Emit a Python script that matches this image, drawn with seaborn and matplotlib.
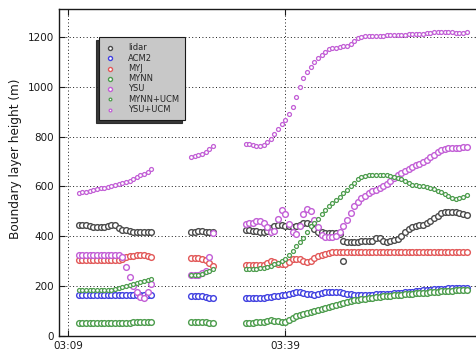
import numpy as np
import pandas as pd
import matplotlib
matplotlib.use("Agg")
import matplotlib.pyplot as plt
import seaborn as sns

sns.set_theme(style="white")
plt.rcParams["font.family"] = ["DejaVu Sans"]

# Sampling times in minutes after 03:09 (30 s cadence), three observing windows
seg1_time = np.arange(1.5, 11.51, 0.5)
seg2_time = np.arange(17.0, 20.01, 0.5)
seg3_time = np.arange(24.5, 55.01, 0.5)

# Boundary layer height (m) per scheme and window
lidar_1 = [445, 446, 444, 440, 438, 437, 437, 438, 440, 446, 446, 432, 426, 424, 420, 418, 417, 416, 415, 415, 415]
lidar_2 = [417, 418, 419, 419, 418, 417, 416]
lidar_3 = [425, 423, 421, 420, 418, 416, 420, 432, 442, 445, 445, 443, 440, 438, 440, 446, 452, 455, 448, 430,
           418, 415, 414, 413, 413, 412, 408, 380, 378, 378, 377, 378, 380, 379, 380, 382, 392, 393, 380, 378,
           380, 383, 388, 400, 415, 428, 436, 442, 444, 446, 452, 462, 472, 482, 492, 497, 499, 498, 496, 493,
           490, 486]
lidar_extra_time = [38.0]
lidar_extra = [302]

acm2_1 = [163, 163, 163, 163, 163, 163, 163, 163, 163, 163, 163, 163, 164, 164, 165, 166, 166, 165, 164, 164, 164]
acm2_2 = [162, 162, 161, 160, 157, 154, 151]
acm2_3 = [152, 152, 152, 152, 153, 154, 156, 158, 160, 162, 163, 165, 170, 174, 176, 176, 173, 170, 167, 166,
          168, 172, 176, 178, 178, 177, 175, 173, 170, 168, 166, 165, 165, 165, 165, 166, 167, 168, 168, 169,
          170, 171, 172, 174, 175, 177, 178, 180, 181, 183, 185, 186, 187, 188, 189, 190, 191, 192, 192, 193,
          193, 194]

myj_1 = [305, 305, 305, 305, 305, 305, 305, 305, 305, 305, 305, 305, 310, 318, 320, 322, 323, 324, 323, 321, 318]
myj_2 = [312, 312, 312, 310, 305, 292, 280]
myj_3 = [284, 284, 285, 285, 285, 286, 294, 299, 296, 290, 288, 290, 298, 307, 310, 307, 301, 297, 301, 311,
         319, 325, 330, 334, 337, 338, 338, 338, 338, 338, 338, 338, 338, 338, 338, 338, 338, 338, 338, 338,
         338, 338, 338, 338, 338, 338, 338, 338, 338, 338, 338, 338, 338, 338, 338, 338, 338, 338, 338, 338,
         338, 338]

mynn_1 = [50, 50, 50, 50, 50, 50, 50, 50, 50, 50, 50, 50, 50, 50, 50, 54, 56, 57, 57, 56, 56]
mynn_2 = [57, 57, 57, 56, 55, 53, 51]
mynn_3 = [52, 52, 53, 54, 55, 57, 60, 62, 60, 58, 56, 56, 64, 72, 78, 84, 88, 92, 96, 100,
          105, 109, 113, 117, 121, 125, 129, 133, 137, 140, 143, 145, 147, 149, 151, 154, 156, 158, 159, 160,
          162, 163, 164, 166, 167, 168, 170, 171, 172, 173, 174, 176, 177, 178, 179, 180, 181, 182, 183, 184,
          185, 186]

ysu_1 = [325, 325, 325, 325, 325, 325, 325, 325, 325, 325, 325, 325, 318, 275, 235, 200, 175, 158, 152, 175, 210]
ysu_2 = [243, 244, 246, 252, 262, 318, 412]
ysu_3 = [450, 452, 455, 460, 463, 455, 435, 415, 420, 470, 505, 490, 450, 415, 410, 440, 490, 510, 500, 465,
         435, 405, 398, 396, 395, 400, 418, 440, 465, 495, 520, 537, 552, 563, 572, 580, 587, 593, 600, 610,
         622, 635, 645, 652, 660, 668, 676, 684, 691, 699, 706, 716, 727, 738, 747, 752, 755, 756, 756, 756,
         757, 757]

mynn_ucm_1 = [183, 183, 183, 183, 183, 183, 183, 183, 184, 185, 188, 192, 196, 200, 204, 208, 212, 216, 220, 225, 230]
mynn_ucm_2 = [245, 245, 246, 250, 256, 262, 267]
mynn_ucm_3 = [268, 268, 269, 270, 271, 274, 278, 282, 287, 293, 300, 310, 325, 342, 360, 375, 392, 415, 440, 455,
              470, 488, 505, 520, 532, 545, 558, 572, 585, 600, 615, 628, 638, 643, 645, 646, 646, 646, 646, 645,
              643, 638, 633, 628, 620, 612, 606, 604, 602, 600, 598, 594, 588, 582, 578, 570, 562, 552, 550, 553,
              558, 565]

ysu_ucm_1 = [573, 576, 579, 582, 586, 589, 592, 595, 598, 601, 604, 608, 612, 617, 623, 630, 638, 646, 651, 656, 670]
ysu_ucm_2 = [718, 722, 726, 732, 740, 750, 761]
ysu_ucm_3 = [770, 769, 767, 764, 762, 768, 778, 792, 810, 830, 852, 868, 890, 920, 960, 1000, 1035, 1060, 1080, 1100,
             1115, 1128, 1140, 1150, 1155, 1157, 1160, 1162, 1164, 1170, 1185, 1196, 1201, 1203, 1204, 1204, 1205, 1205, 1205, 1206,
             1206, 1206, 1207, 1208, 1209, 1210, 1210, 1210, 1211, 1213, 1215, 1216, 1218, 1220, 1221, 1221, 1220, 1218, 1217, 1217,
             1217, 1218]

schemes = ["lidar", "ACM2", "MYJ", "MYNN", "YSU", "MYNN+UCM", "YSU+UCM"]
xtick_pos = [0, 30]
xtick_labels = ["03:09", "03:39"]
ytick_pos = [0, 200, 400, 600, 800, 1000, 1200]

series = {
    "lidar": (lidar_1, lidar_2, lidar_3),
    "ACM2": (acm2_1, acm2_2, acm2_3),
    "MYJ": (myj_1, myj_2, myj_3),
    "MYNN": (mynn_1, mynn_2, mynn_3),
    "YSU": (ysu_1, ysu_2, ysu_3),
    "MYNN+UCM": (mynn_ucm_1, mynn_ucm_2, mynn_ucm_3),
    "YSU+UCM": (ysu_ucm_1, ysu_ucm_2, ysu_ucm_3),
}

frames = []
for name in schemes:
    a, b, c = series[name]
    t = np.concatenate([seg1_time, seg2_time, seg3_time])
    h = np.concatenate([a, b, c]).astype(float)
    if name == "lidar":
        t = np.concatenate([t, lidar_extra_time])
        h = np.concatenate([h, lidar_extra])
    frames.append(pd.DataFrame({"time": t, "height": h, "scheme": name}))
df = pd.concat(frames, ignore_index=True)

edge_colors = {
    "lidar": "#4a4a4a",
    "ACM2": "#4040e0",
    "MYJ": "#e25858",
    "MYNN": "#4c9c4c",
    "YSU": "#c25ed6",
    "MYNN+UCM": "#4c9c4c",
    "YSU+UCM": "#c25ed6",
}
marker_area = {"lidar": 17, "ACM2": 17, "MYJ": 17, "MYNN": 17, "YSU": 17, "MYNN+UCM": 8, "YSU+UCM": 8}
marker_lw = {"lidar": 1.0, "ACM2": 1.0, "MYJ": 1.0, "MYNN": 1.0, "YSU": 1.0, "MYNN+UCM": 0.9, "YSU+UCM": 0.9}

fig = plt.figure(figsize=(4.76, 3.51), dpi=100)
ax = fig.add_axes([59 / 476, 15 / 351, 422 / 476, 327 / 351])

for name in schemes:
    sub = df[df["scheme"] == name]
    sns.scatterplot(data=sub, x="time", y="height", ax=ax, marker="o",
                    s=marker_area[name], facecolor="white",
                    edgecolor=edge_colors[name], linewidth=marker_lw[name],
                    label=name)

ax.set_xlim(-1.24, 57.0)
ax.set_ylim(-0.5, 1312)
ax.set_xticks(xtick_pos)
ax.set_xticklabels(xtick_labels)
ax.set_yticks(ytick_pos)
ax.set_yticklabels([str(v) for v in ytick_pos])
ax.set_xlabel("")
ax.set_ylabel("Boundary layer height (m)", fontsize=8.7, color="k")
ax.yaxis.set_label_coords(-0.088, 0.541)

ax.grid(True, color="k", linestyle=(0, (1, 2.5)), linewidth=0.7)
for sp in ax.spines.values():
    sp.set_color("k")
    sp.set_linewidth(1.0)
ax.tick_params(direction="in", length=4, width=0.8, colors="k", labelsize=7.5,
               top=True, right=True, left=True, bottom=True)

leg = ax.legend(loc="upper left", bbox_to_anchor=(0.095, 0.914), fontsize=6,
                facecolor="#c8c8c8", edgecolor="k", framealpha=1, fancybox=False,
                shadow={"ox": -2, "oy": -2, "color": "#222222", "alpha": 0.9},
                borderpad=0.75, borderaxespad=0, labelspacing=0.15, handletextpad=1.7,
                handlelength=1.0, scatterpoints=1, markerscale=0.7)
leg.get_frame().set_linewidth(0.8)

fig.savefig("out.png", dpi=100)
